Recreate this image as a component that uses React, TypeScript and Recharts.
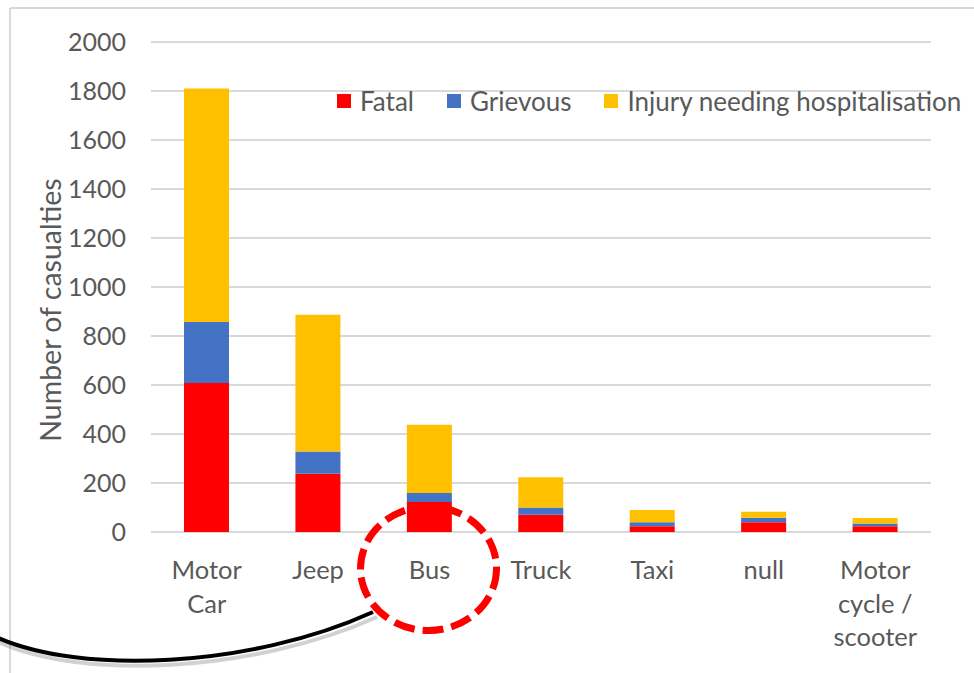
import { Bar, BarChart, CartesianGrid, Legend, XAxis, YAxis } from 'recharts';

const CATEGORIES = ['Motor Car', 'Jeep', 'Bus', 'Truck', 'Taxi', 'null', 'Motor cycle / scooter'];
const FATAL = [608, 238, 122, 70, 23, 40, 23];
const GRIEVOUS = [249, 91, 37, 30, 17, 18, 12];
const INJURY = [953, 558, 279, 123, 50, 25, 22];
const Y_TICKS = [0, 200, 400, 600, 800, 1000, 1200, 1400, 1600, 1800, 2000];
const SERIES_NAMES = ['Fatal', 'Grievous', 'Injury needing hospitalisation'];
const COLORS = ['#FF0000', '#4472C4', '#FFC000'];

const TEXT = '#595959';
const FONT = 'Lato, "Open Sans", sans-serif';

const data = CATEGORIES.map((name, i) => ({
  name,
  fatal: FATAL[i],
  grievous: GRIEVOUS[i],
  injury: INJURY[i],
}));

// excel-style wrapping of long category names
function wrapLabel(label: string, maxChars = 7) {
  const lines: string[] = [];
  let cur = '';
  for (const word of label.split(' ')) {
    const next = cur ? cur + ' ' + word : word;
    if (cur && next.length > maxChars) {
      lines.push(cur);
      cur = word;
    } else {
      cur = next;
    }
  }
  if (cur) lines.push(cur);
  return lines;
}

function CategoryTick({ x, y, payload }: any) {
  const lines = wrapLabel(String(payload.value));
  return (
    <text x={x} y={y} textAnchor="middle" fill={TEXT} fontSize={25.5} fontFamily={FONT}>
      {lines.map((line, i) => (
        <tspan key={i} x={x} dy={i === 0 ? 0 : 33.5}>
          {line}
        </tspan>
      ))}
    </text>
  );
}

function AxisTitle({ viewBox }: any) {
  const cx = viewBox.x + 50;
  const cy = viewBox.y + viewBox.height / 2 + 23;
  return (
    <text
      x={cx}
      y={cy}
      transform={`rotate(-90 ${cx} ${cy})`}
      textAnchor="middle"
      dominantBaseline="central"
      fill={TEXT}
      fontSize={28.5}
      fontFamily={FONT}
    >
      Number of casualties
    </text>
  );
}

function LegendContent({ payload }: any) {
  const items = payload ?? [];
  return (
    <div
      style={{
        display: 'flex',
        alignItems: 'center',
        fontSize: 26,
        color: TEXT,
        fontFamily: FONT,
        whiteSpace: 'nowrap',
        lineHeight: '30px',
      }}
    >
      {items.map((p: any, i: number) => (
        <span
          key={p.value}
          style={{ display: 'flex', alignItems: 'center', marginRight: i < items.length - 1 ? 33 : 0 }}
        >
          <span style={{ width: 14, height: 14, background: p.color, marginRight: 9 }} />
          {p.value}
        </span>
      ))}
    </div>
  );
}

export default function App() {
  return (
    <div
      style={{
        position: 'absolute',
        left: 0,
        top: 0,
        width: 974,
        height: 673,
        background: '#fff',
        fontFamily: FONT,
        overflow: 'hidden',
      }}
    >
      <BarChart
        width={974}
        height={673}
        data={data}
        margin={{ top: 42, right: 43, left: 0, bottom: 21 }}
      >
        <CartesianGrid vertical={false} stroke="#D9D9D9" strokeWidth={2} />
        <XAxis
          dataKey="name"
          height={120}
          axisLine={false}
          tickLine={false}
          tickSize={0}
          tickMargin={47}
          interval={0}
          tick={<CategoryTick />}
        />
        <YAxis
          width={151}
          domain={[0, 2000]}
          ticks={Y_TICKS}
          axisLine={false}
          tickLine={false}
          tickSize={0}
          tickMargin={25}
          tick={{ fill: TEXT, fontSize: 25, fontFamily: FONT }}
          label={<AxisTitle />}
        />
        <Legend
          layout="horizontal"
          verticalAlign="middle"
          align="center"
          content={<LegendContent />}
          wrapperStyle={{ top: 86, left: 337, width: 'auto' }}
        />
        <Bar dataKey="fatal" name={SERIES_NAMES[0]} stackId="a" fill={COLORS[0]} barSize={45} isAnimationActive={false} />
        <Bar dataKey="grievous" name={SERIES_NAMES[1]} stackId="a" fill={COLORS[1]} barSize={45} isAnimationActive={false} />
        <Bar dataKey="injury" name={SERIES_NAMES[2]} stackId="a" fill={COLORS[2]} barSize={45} isAnimationActive={false} />
      </BarChart>

      {/* frame + hand-drawn callout on top of the chart */}
      <svg
        width={974}
        height={673}
        style={{ position: 'absolute', left: 0, top: 0, pointerEvents: 'none' }}
      >
        <line x1={10} y1={8} x2={974} y2={8} stroke="#D9D9D9" strokeWidth={2} />
        <line x1={10} y1={8} x2={10} y2={673} stroke="#D9D9D9" strokeWidth={2} />
        <path
          d="M -4 639 C 80 677, 250 670, 375 614"
          fill="none"
          stroke="rgba(0,0,0,0.18)"
          strokeWidth={4}
          transform="translate(2 3)"
        />
        <path d="M -4 637 C 80 675, 250 668, 373 612" fill="none" stroke="#000" strokeWidth={4} />
        <ellipse
          cx={428.5}
          cy={568.5}
          rx={68}
          ry={62}
          fill="none"
          stroke="#FF0000"
          strokeWidth={7}
          strokeDasharray="21 8"
        />
      </svg>
    </div>
  );
}
